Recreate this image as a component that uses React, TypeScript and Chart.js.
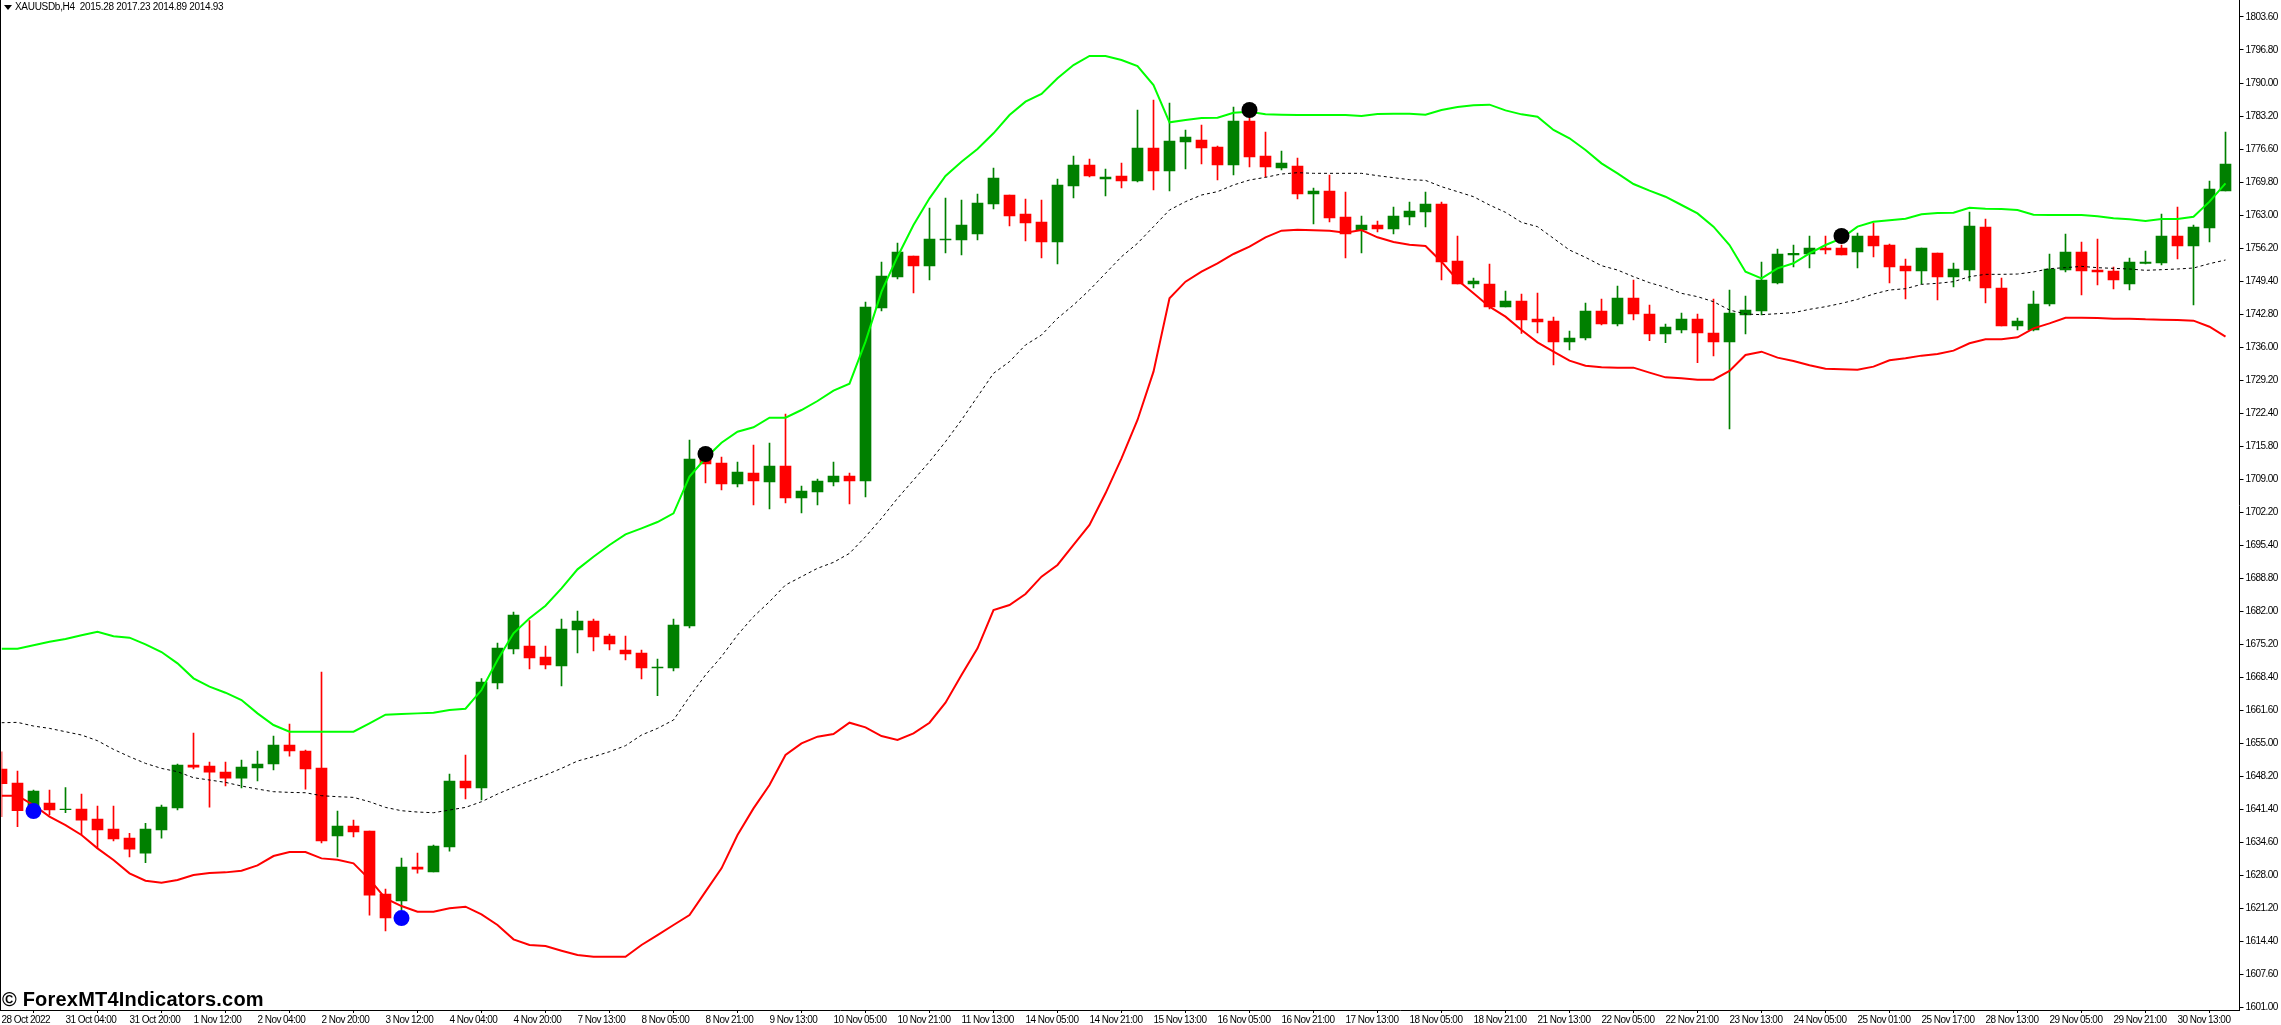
import React, { useEffect, useRef } from "react";
import { Chart, registerables } from "chart.js";

Chart.register(...registerables);

const openPrices = [
  1649.78, 1646.91, 1641.39, 1642.82, 1641.46, 1641.59, 1639.55, 1637.5, 1635.66, 1632.59,
  1637.3, 1641.8, 1650.59, 1650.39, 1649.16, 1647.93, 1649.98, 1650.8, 1654.68, 1653.46,
  1649.98, 1636.07, 1638.12, 1637.09, 1624.21, 1622.78, 1629.73, 1628.71, 1633.82, 1647.32,
  1645.89, 1667.37, 1674.33, 1674.94, 1672.69, 1670.85, 1678.21, 1680.05, 1676.99, 1674.12,
  1673.51, 1670.44, 1670.44, 1679.03, 1714.21, 1712.37, 1708.08, 1710.33, 1708.49, 1711.76,
  1705.21, 1706.44, 1708.49, 1709.71, 1708.69, 1744.07, 1750.41, 1754.71, 1752.66, 1757.98,
  1757.98, 1759.21, 1765.34, 1767.18, 1763.3, 1761.66, 1757.57, 1769.03, 1773.32, 1770.46,
  1771.07, 1770.05, 1776.8, 1772.09, 1778.03, 1778.43, 1777.0, 1773.32, 1782.32, 1775.16,
  1772.71, 1773.12, 1767.39, 1768.0, 1762.68, 1760.03, 1761.05, 1760.23, 1762.68, 1763.71,
  1765.34, 1753.68, 1748.98, 1748.98, 1744.28, 1745.5, 1741.82, 1741.41, 1737.12, 1737.94,
  1743.46, 1740.8, 1746.12, 1742.84, 1738.75, 1739.57, 1741.82, 1738.96, 1737.12, 1742.64,
  1743.46, 1749.18, 1754.91, 1755.12, 1756.34, 1756.34, 1755.53, 1758.8, 1756.96, 1752.66,
  1751.64, 1755.32, 1750.41, 1751.84, 1760.64, 1748.16, 1740.39, 1739.57, 1744.89, 1751.84,
  1755.53, 1751.84, 1751.64, 1748.98, 1753.21, 1753.28, 1758.8, 1756.75, 1760.43, 1768.0,
];

const highPrices = [
  1653.32, 1649.37, 1645.48, 1645.48, 1645.96, 1644.66, 1642.21, 1642.21, 1636.62, 1638.66,
  1642.41, 1650.8, 1657.14, 1651.21, 1651.21, 1651.62, 1653.46, 1656.53, 1658.98, 1653.66,
  1669.6, 1641.19, 1639.34, 1637.09, 1625.23, 1631.57, 1632.59, 1634.23, 1648.75, 1652.64,
  1668.3, 1675.55, 1681.9, 1680.12, 1674.94, 1680.46, 1682.1, 1680.46, 1677.4, 1676.99,
  1674.12, 1672.28, 1680.46, 1717.08, 1715.03, 1713.6, 1712.58, 1716.05, 1716.46, 1722.39,
  1707.67, 1709.1, 1712.58, 1710.33, 1745.3, 1753.48, 1757.37, 1754.71, 1764.53, 1766.57,
  1766.16, 1767.39, 1772.71, 1767.18, 1766.37, 1766.16, 1770.46, 1775.16, 1774.55, 1772.5,
  1773.73, 1784.57, 1786.62, 1786.0, 1780.48, 1781.5, 1777.21, 1785.18, 1783.21, 1780.07,
  1776.18, 1774.75, 1768.62, 1771.28, 1767.8, 1762.89, 1761.87, 1764.73, 1765.75, 1767.8,
  1765.75, 1758.8, 1750.21, 1753.07, 1747.55, 1746.94, 1747.14, 1742.23, 1739.37, 1745.09,
  1745.91, 1748.57, 1749.8, 1744.69, 1740.8, 1743.05, 1742.84, 1745.91, 1747.75, 1746.53,
  1753.48, 1756.14, 1756.96, 1758.8, 1758.8, 1756.96, 1759.41, 1761.46, 1757.16, 1754.09,
  1756.34, 1755.32, 1753.28, 1763.71, 1762.28, 1750.21, 1742.03, 1747.55, 1755.12, 1759.21,
  1757.57, 1758.18, 1752.46, 1754.3, 1755.73, 1763.3, 1764.73, 1761.05, 1770.05, 1780.07,
];

const lowPrices = [
  1640.03, 1637.98, 1641.05, 1640.37, 1640.84, 1636.28, 1633.55, 1635.05, 1631.78, 1630.62,
  1635.66, 1641.39, 1649.78, 1642.0, 1646.3, 1645.89, 1647.32, 1649.57, 1652.43, 1645.68,
  1634.64, 1631.78, 1635.87, 1619.91, 1616.64, 1620.94, 1628.5, 1628.71, 1633.0, 1643.64,
  1643.44, 1666.14, 1673.3, 1670.24, 1670.24, 1666.76, 1673.51, 1673.92, 1674.12, 1672.08,
  1668.19, 1664.78, 1669.83, 1678.62, 1708.28, 1706.85, 1707.46, 1703.78, 1702.96, 1704.19,
  1702.14, 1703.78, 1707.67, 1703.99, 1705.42, 1743.46, 1750.0, 1747.14, 1749.8, 1755.32,
  1754.91, 1757.98, 1764.32, 1760.84, 1757.78, 1754.3, 1753.07, 1766.57, 1770.87, 1766.98,
  1768.62, 1769.84, 1768.21, 1768.0, 1772.5, 1773.53, 1770.25, 1771.28, 1772.91, 1770.87,
  1772.3, 1766.37, 1761.25, 1761.66, 1754.3, 1755.32, 1759.62, 1759.21, 1761.05, 1760.64,
  1749.8, 1748.98, 1748.16, 1743.87, 1744.28, 1738.89, 1738.96, 1732.42, 1735.48, 1737.53,
  1740.59, 1740.39, 1741.62, 1737.39, 1736.98, 1738.96, 1732.89, 1734.26, 1719.33, 1738.75,
  1742.64, 1748.98, 1752.46, 1752.25, 1755.12, 1754.91, 1752.25, 1754.5, 1749.18, 1745.91,
  1748.98, 1745.71, 1748.37, 1749.59, 1745.09, 1740.39, 1739.57, 1739.37, 1744.48, 1751.44,
  1746.73, 1748.78, 1747.96, 1747.75, 1753.07, 1752.87, 1754.09, 1744.69, 1757.57, 1768.0,
];

const closePrices = [
  1646.78, 1641.25, 1645.28, 1641.39, 1641.59, 1639.34, 1637.3, 1635.46, 1633.41, 1637.5,
  1642.0, 1650.59, 1650.18, 1649.16, 1647.93, 1650.18, 1650.8, 1654.68, 1653.46, 1649.78,
  1635.05, 1638.12, 1636.89, 1624.0, 1619.3, 1629.73, 1629.32, 1634.03, 1647.32, 1645.89,
  1667.57, 1674.53, 1681.28, 1672.49, 1671.05, 1678.42, 1680.05, 1676.78, 1675.35, 1673.3,
  1670.44, 1670.65, 1679.24, 1713.19, 1712.17, 1708.08, 1710.53, 1708.69, 1711.76, 1705.21,
  1706.64, 1708.69, 1709.71, 1708.69, 1744.28, 1750.62, 1755.53, 1752.66, 1758.18, 1758.18,
  1761.05, 1765.55, 1770.66, 1762.89, 1761.46, 1757.57, 1769.23, 1773.32, 1771.07, 1770.87,
  1770.05, 1776.8, 1772.09, 1778.23, 1779.05, 1776.8, 1773.32, 1782.32, 1774.96, 1772.91,
  1773.73, 1767.39, 1768.0, 1762.48, 1759.21, 1761.05, 1760.23, 1762.89, 1763.91, 1765.34,
  1753.48, 1748.98, 1749.59, 1744.28, 1745.5, 1741.62, 1741.21, 1737.12, 1737.94, 1743.46,
  1740.8, 1746.12, 1742.84, 1738.75, 1740.19, 1741.82, 1738.96, 1737.12, 1743.05, 1743.66,
  1749.8, 1755.12, 1755.25, 1756.34, 1755.93, 1754.91, 1758.8, 1756.75, 1752.46, 1751.64,
  1756.34, 1750.41, 1752.05, 1760.84, 1748.16, 1740.39, 1741.41, 1744.89, 1752.05, 1755.53,
  1751.64, 1751.44, 1749.8, 1753.48, 1753.48, 1758.8, 1756.75, 1760.64, 1768.41, 1773.53,
];

const upperBand = [
  1674.4, 1674.4, 1675.08, 1675.83, 1676.37, 1677.12, 1677.87, 1676.92, 1676.65, 1675.28,
  1673.71, 1671.4, 1668.33, 1666.62, 1665.39, 1663.89, 1661.16, 1658.78, 1657.41, 1657.41,
  1657.41, 1657.41, 1657.41, 1659.12, 1660.89, 1661.03, 1661.16, 1661.3, 1661.84, 1662.12,
  1665.93, 1672.08, 1677.53, 1680.6, 1683.19, 1686.74, 1690.62, 1693.21, 1695.6, 1697.78,
  1699.01, 1700.3, 1702.08, 1709.58, 1713.33, 1716.53, 1718.78, 1719.67, 1721.64, 1721.64,
  1723.21, 1725.05, 1727.17, 1728.6, 1737.19, 1747.41, 1754.57, 1761.05, 1766.5, 1771.07,
  1774.0, 1776.59, 1779.8, 1783.55, 1786.27, 1787.84, 1791.05, 1793.77, 1795.62, 1795.62,
  1794.8, 1793.57, 1789.68, 1782.05, 1782.53, 1782.93, 1783.0, 1784.02, 1784.23, 1783.68,
  1783.62, 1783.55, 1783.55, 1783.55, 1783.55, 1783.34, 1783.75, 1783.82, 1783.82, 1783.62,
  1784.57, 1785.18, 1785.52, 1785.66, 1784.5, 1783.68, 1783.21, 1780.48, 1778.78, 1776.39,
  1773.66, 1771.62, 1769.43, 1768.07, 1766.84, 1765.14, 1763.43, 1760.71, 1756.96, 1751.5,
  1750.14, 1752.19, 1753.21, 1755.25, 1756.96, 1758.32, 1760.71, 1761.73, 1762.0, 1762.34,
  1763.23, 1763.5, 1763.57, 1764.59, 1764.39, 1764.32, 1764.12, 1763.16, 1763.09, 1763.09,
  1763.09, 1762.82, 1762.41, 1762.21, 1761.87, 1762.28, 1762.28, 1762.75, 1765.82, 1769.57,
];

const middleBand = [
  1659.25, 1659.32, 1658.57, 1658.09, 1657.41, 1656.73, 1655.57, 1653.8, 1652.3, 1650.93,
  1649.91, 1649.23, 1648.0, 1647.53, 1647.05, 1646.3, 1645.68, 1645.14, 1645.0, 1644.93,
  1644.32, 1644.12, 1643.98, 1643.09, 1641.93, 1641.25, 1640.98, 1640.84, 1641.39, 1641.93,
  1643.09, 1644.66, 1646.03, 1647.32, 1648.55, 1649.91, 1651.41, 1652.3, 1653.32, 1654.55,
  1656.73, 1658.09, 1659.8, 1664.57, 1669.01, 1672.76, 1677.19, 1680.94, 1684.01, 1687.42,
  1689.12, 1690.83, 1692.05, 1693.89, 1697.3, 1701.05, 1705.14, 1708.89, 1712.64, 1716.73,
  1721.17, 1725.94, 1730.71, 1733.1, 1736.51, 1738.55, 1741.96, 1744.69, 1747.75, 1751.16,
  1754.57, 1757.3, 1760.71, 1764.12, 1765.82, 1767.18, 1767.87, 1769.23, 1770.25, 1770.8,
  1771.48, 1771.75, 1771.62, 1771.62, 1771.62, 1771.62, 1771.14, 1770.73, 1770.32, 1770.18,
  1768.89, 1767.87, 1766.84, 1765.14, 1763.64, 1761.59, 1760.71, 1758.32, 1755.93, 1754.43,
  1752.73, 1751.84, 1750.48, 1749.25, 1748.3, 1747.07, 1746.39, 1745.37, 1743.66, 1742.84,
  1742.71, 1742.91, 1743.12, 1743.8, 1744.34, 1745.02, 1745.84, 1746.93, 1747.75, 1748.02,
  1748.91, 1749.12, 1749.46, 1750.48, 1750.96, 1750.96, 1751.02, 1751.44, 1752.12, 1752.32,
  1752.59, 1752.32, 1752.18, 1752.05, 1751.78, 1751.91, 1752.05, 1752.25, 1753.14, 1753.89,
];

const lowerBand = [
  1644.32, 1644.32, 1642.41, 1640.03, 1638.32, 1636.28, 1633.55, 1631.16, 1628.44, 1626.94,
  1626.53, 1627.07, 1628.09, 1628.5, 1628.64, 1628.98, 1630.07, 1631.98, 1632.8, 1632.8,
  1631.5, 1631.23, 1630.48, 1627.21, 1623.32, 1621.75, 1620.6, 1620.6, 1621.28, 1621.62,
  1620.05, 1617.87, 1614.94, 1613.78, 1613.57, 1612.62, 1611.73, 1611.39, 1611.39, 1611.39,
  1613.78, 1615.82, 1617.87, 1619.91, 1624.69, 1629.46, 1636.28, 1641.73, 1646.5, 1652.64,
  1655.03, 1656.39, 1656.93, 1659.25, 1658.3, 1656.53, 1655.71, 1657.07, 1659.25, 1663.34,
  1669.01, 1674.46, 1682.3, 1683.33, 1685.58, 1689.12, 1691.51, 1695.6, 1699.69, 1706.17,
  1713.33, 1721.17, 1731.05, 1746.05, 1749.46, 1751.5, 1753.21, 1755.12, 1756.62, 1758.53,
  1759.89, 1760.09, 1759.96, 1759.89, 1759.48, 1760.03, 1758.53, 1757.57, 1757.03, 1756.75,
  1753.55, 1749.8, 1747.07, 1744.34, 1742.3, 1739.57, 1737.05, 1735.14, 1733.3, 1732.28,
  1731.94, 1731.87, 1731.87, 1730.85, 1729.89, 1729.69, 1729.42, 1729.42, 1731.19, 1734.46,
  1735.14, 1733.92, 1733.23, 1732.35, 1731.67, 1731.53, 1731.46, 1732.08, 1733.37, 1733.78,
  1734.33, 1734.67, 1735.35, 1736.85, 1737.66, 1737.66, 1738.07, 1739.91, 1740.93, 1742.09,
  1742.09, 1742.03, 1741.89, 1741.89, 1741.75, 1741.69, 1741.62, 1741.48, 1740.25, 1738.21,
];

const buySignals = [
  { x: 2, y: 1641.18 },
  { x: 25, y: 1619.3 },
];
const sellSignals = [
  { x: 44, y: 1714.21 },
  { x: 78, y: 1784.57 },
  { x: 115, y: 1758.8 },
];

const timeLabels = [
  "28 Oct 2022", "31 Oct 04:00", "31 Oct 20:00", "1 Nov 12:00", "2 Nov 04:00", "2 Nov 20:00", "3 Nov 12:00",
  "4 Nov 04:00", "4 Nov 20:00", "7 Nov 13:00", "8 Nov 05:00", "8 Nov 21:00", "9 Nov 13:00", "10 Nov 05:00",
  "10 Nov 21:00", "11 Nov 13:00", "14 Nov 05:00", "14 Nov 21:00", "15 Nov 13:00", "16 Nov 05:00", "16 Nov 21:00",
  "17 Nov 13:00", "18 Nov 05:00", "18 Nov 21:00", "21 Nov 13:00", "22 Nov 05:00", "22 Nov 21:00", "23 Nov 13:00",
  "24 Nov 05:00", "25 Nov 01:00", "25 Nov 17:00", "28 Nov 13:00", "29 Nov 05:00", "29 Nov 21:00", "30 Nov 13:00",
];
const timeTickIndex = timeLabels.map((_, k) => k * 4);

const priceTickLabels = [
  "1601.00", "1607.60", "1614.40", "1621.20", "1628.00", "1634.60", "1641.40", "1648.20", "1655.00", "1661.60",
  "1668.40", "1675.20", "1682.00", "1688.80", "1695.40", "1702.20", "1709.00", "1715.80", "1722.40", "1729.20",
  "1736.00", "1742.80", "1749.40", "1756.20", "1763.00", "1769.80", "1776.60", "1783.20", "1790.00", "1796.80",
  "1803.60",
];
const priceTickValues = [
  1601.0, 1607.75, 1614.51, 1621.26, 1628.01, 1634.77, 1641.52, 1648.27, 1655.03, 1661.78,
  1668.53, 1675.29, 1682.04, 1688.79, 1695.55, 1702.3, 1709.05, 1715.81, 1722.56, 1729.31,
  1736.07, 1742.82, 1749.57, 1756.33, 1763.08, 1769.83, 1776.59, 1783.34, 1790.09, 1796.85,
  1803.6,
];

const UP = "#008000";
const DOWN = "#ff0000";
const AXIS_FONT = { family: "'Liberation Sans', sans-serif", size: 10 };
const NO_PADDING = () => ({ left: 0, top: 0, right: 0, bottom: 0 });

const chartFrame = {
  id: "chartFrame",
  beforeDraw(chart: any) {
    (chart.ctx as any).letterSpacing = "-0.55px";
  },
  afterDraw(chart: any) {
    const { ctx, chartArea } = chart;
    ctx.save();
    ctx.fillStyle = "#000";
    ctx.fillRect(0, 0, 1, chartArea.bottom + 1);
    ctx.fillRect(0, chartArea.bottom, 2, 1);
    ctx.restore();
  },
};

export default function App() {
  const ref = useRef<HTMLCanvasElement>(null);
  useEffect(() => {
    const colors = closePrices.map((c, i) => (c >= openPrices[i] ? UP : DOWN));
    const chart = new Chart(ref.current as HTMLCanvasElement, {
      type: "bar",
      data: {
        datasets: [
          {
            type: "line",
            label: "Sell signal",
            data: sellSignals,
            showLine: false,
            pointRadius: 8,
            pointBorderWidth: 0,
            pointBackgroundColor: "#000000",
            order: 0,
          },
          {
            type: "line",
            label: "Buy signal",
            data: buySignals,
            showLine: false,
            pointRadius: 8,
            pointBorderWidth: 0,
            pointBackgroundColor: "#0000ff",
            order: 0,
          },
          {
            type: "line",
            label: "Upper band",
            data: upperBand.map((y, x) => ({ x, y })),
            borderColor: "#00ff00",
            borderWidth: 2,
            pointRadius: 0,
            tension: 0,
            order: 1,
          },
          {
            type: "line",
            label: "Lower band",
            data: lowerBand.map((y, x) => ({ x, y })),
            borderColor: "#ff0000",
            borderWidth: 2,
            pointRadius: 0,
            tension: 0,
            order: 1,
          },
          {
            type: "line",
            label: "Middle band",
            data: middleBand.map((y, x) => ({ x, y })),
            borderColor: "#000000",
            borderWidth: 1,
            borderDash: [3, 3],
            pointRadius: 0,
            tension: 0,
            order: 1,
          },
          {
            type: "bar",
            label: "Body",
            data: openPrices.map((o, x) => ({ x, y: [o, closePrices[x]] })),
            backgroundColor: colors,
            barThickness: 11,
            grouped: false,
            order: 2,
          },
          {
            type: "bar",
            label: "Wick",
            data: lowPrices.map((l, x) => ({ x, y: [l, highPrices[x]] })),
            backgroundColor: colors,
            barThickness: 1,
            grouped: false,
            order: 3,
          },
        ] as any,
      },
      options: {
        responsive: false,
        animation: false,
        devicePixelRatio: 1,
        events: [],
        layout: { autoPadding: false, padding: { left: 1.5, right: 0, top: 0, bottom: 0 } },
        plugins: { legend: { display: false }, title: { display: false }, tooltip: { enabled: false } },
        scales: {
          x: {
            type: "linear",
            offset: false,
            min: 0,
            max: 139.875,
            grid: { drawOnChartArea: false, drawTicks: true, tickLength: 3, color: "#000" },
            border: { display: true, color: "#000", width: 1 },
            ticks: {
              autoSkip: false,
              maxRotation: 0,
              minRotation: 0,
              align: "start",
              padding: 1,
              color: "#000",
              font: AXIS_FONT,
              callback: (_v: any, i: number) => timeLabels[i],
            },
            afterBuildTicks: (s: any) => {
              s.ticks = timeTickIndex.map((value) => ({ value }));
              s.getPadding = NO_PADDING;
            },
            afterFit: (s: any) => {
              s.height = 15;
            },
          },
          y: {
            type: "linear",
            position: "right",
            min: 1600.49,
            max: 1807.07,
            grid: { drawOnChartArea: false, drawTicks: true, tickLength: 4, color: "#000" },
            border: { display: true, color: "#000", width: 1 },
            ticks: {
              autoSkip: false,
              padding: 2,
              color: "#000",
              font: AXIS_FONT,
              callback: (_v: any, i: number) => priceTickLabels[i],
            },
            afterBuildTicks: (s: any) => {
              s.ticks = priceTickValues.map((value) => ({ value }));
              s.getPadding = NO_PADDING;
            },
            afterFit: (s: any) => {
              s.width = 41.5;
            },
          },
        },
      },
      plugins: [chartFrame],
    } as any);
    return () => chart.destroy();
  }, []);

  return (
    <div style={{ position: "absolute", left: 0, top: 0, width: 2281, height: 1025, background: "#fff", overflow: "hidden" }}>
      <canvas ref={ref} width={2281} height={1025} style={{ display: "block", width: 2281, height: 1025 }} />
      <div
        style={{
          position: "absolute",
          left: 4,
          top: 5,
          width: 0,
          height: 0,
          borderLeft: "4px solid transparent",
          borderRight: "4px solid transparent",
          borderTop: "5px solid #000",
        }}
      />
      <div
        style={{
          position: "absolute",
          left: 15,
          top: 1,
          font: "10px 'Liberation Sans', sans-serif",
          letterSpacing: "-0.3px",
          color: "#000",
          whiteSpace: "pre",
        }}
      >
        {"XAUUSDb,H4  2015.28 2017.23 2014.89 2014.93"}
      </div>
      <div
        style={{
          position: "absolute",
          left: 2,
          top: 988,
          font: "bold 20px 'Liberation Sans', sans-serif",
          letterSpacing: "0.2px",
          color: "#000",
          whiteSpace: "pre",
        }}
      >
        {"© ForexMT4Indicators.com"}
      </div>
    </div>
  );
}
